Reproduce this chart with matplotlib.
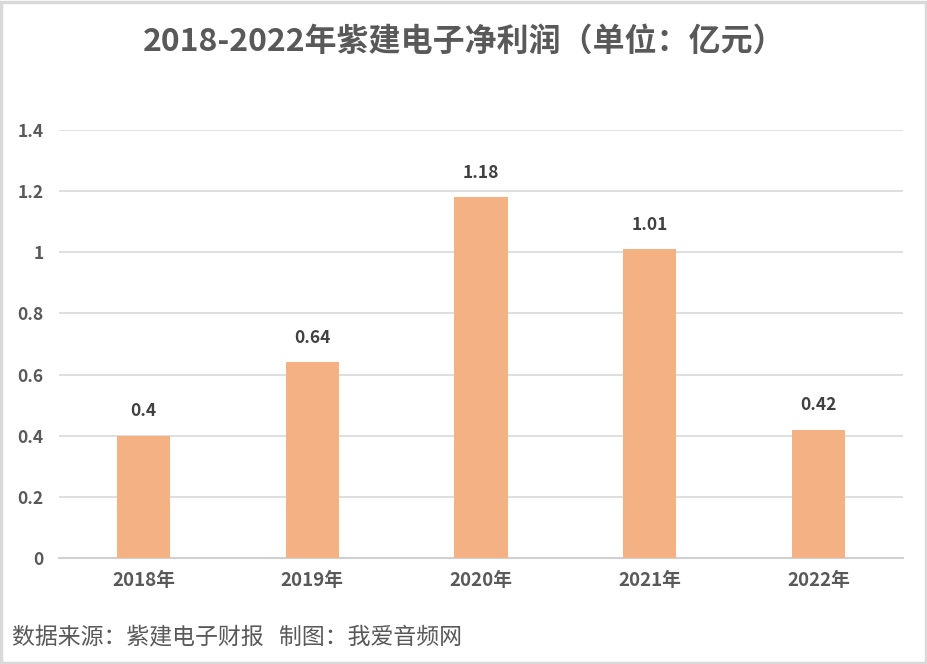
import matplotlib
matplotlib.use("Agg")
import matplotlib.pyplot as plt
from matplotlib.patches import Rectangle

plt.rcParams["font.family"] = ["Noto Sans CJK SC", "DejaVu Sans"]

years = ["2018年", "2019年", "2020年", "2021年", "2022年"]
profit = [0.4, 0.64, 1.18, 1.01, 0.42]
value_labels = ["0.4", "0.64", "1.18", "1.01", "0.42"]
y_ticks = [0, 0.2, 0.4, 0.6, 0.8, 1.0, 1.2, 1.4]
y_tick_labels = ["0", "0.2", "0.4", "0.6", "0.8", "1", "1.2", "1.4"]

text_color = "#595959"
bar_color = "#F4B183"

fig = plt.figure(figsize=(9.28, 6.64), dpi=100)
ax = fig.add_axes([0.0636, 0.1596, 0.9095, 0.6446])

x = range(len(years))
ax.bar(x, profit, width=0.315, color=bar_color, zorder=3)

for xi, v, lab in zip(x, profit, value_labels):
    ax.annotate(lab, (xi, v), xytext=(0, 11), textcoords="offset points",
                ha="center", va="bottom", fontsize=12.5, fontweight="bold",
                color="#404040")

ax.set_xlim(-0.5, len(years) - 0.5)
ax.set_ylim(0, 1.4)
ax.set_yticks(y_ticks)
ax.set_yticklabels(y_tick_labels, fontsize=12.5, fontweight="bold", color=text_color)
ax.set_xticks(list(x))
ax.set_xticklabels(years, fontsize=13.5, fontweight="bold", color=text_color)
ax.tick_params(axis="both", length=0)
ax.tick_params(axis="y", pad=11)
ax.tick_params(axis="x", pad=9)

ax.grid(axis="y", color="#D9D9D9", linewidth=1.2, zorder=0)
for side in ["top", "right", "left"]:
    ax.spines[side].set_visible(False)
ax.spines["bottom"].set_color("#D0D0D0")
ax.spines["bottom"].set_linewidth(1.5)

fig.text(0.5, 0.937, "2018-2022年紫建电子净利润（单位：亿元）", ha="center",
         va="center", fontsize=23, fontweight="bold", color=text_color)
fig.text(0.013, 0.04, "数据来源：紫建电子财报   制图：我爱音频网", ha="left",
         va="center", fontsize=16.5, color=text_color)

fig.patches.append(Rectangle((0.001, 0.002), 0.997, 0.995, transform=fig.transFigure,
                             fill=False, edgecolor="#D9D9D9", linewidth=2.5))

fig.savefig("out.png", dpi=100)
